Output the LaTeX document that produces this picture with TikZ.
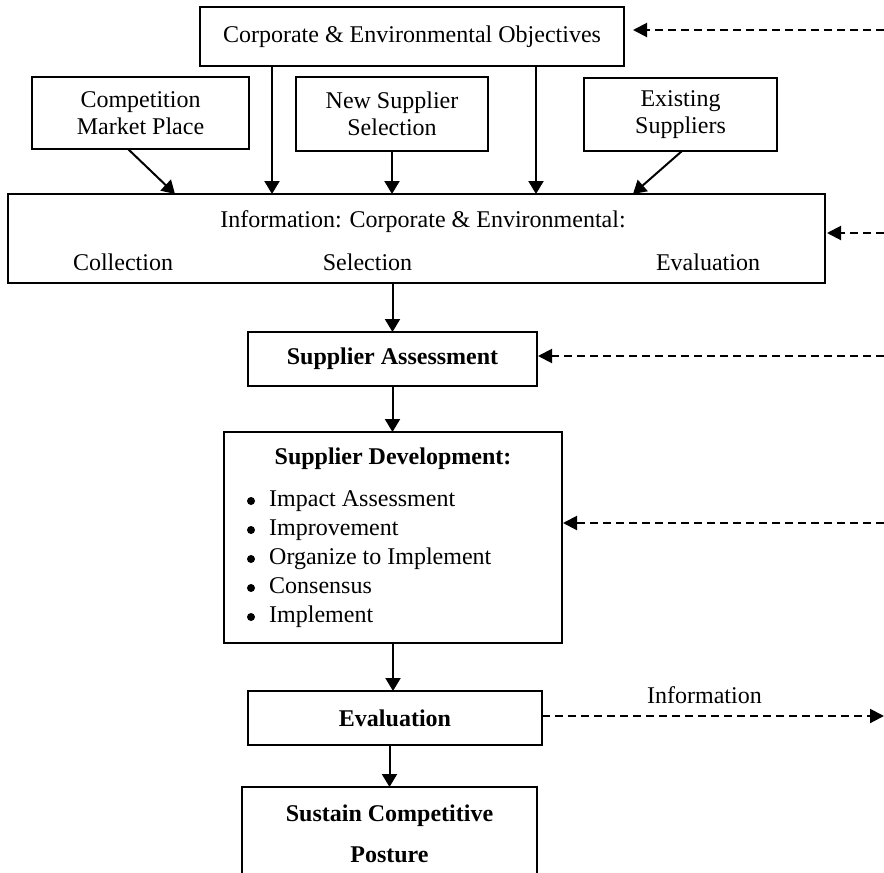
\documentclass[tikz,border=0pt]{standalone}
\usepackage{fontspec}
\setmainfont{Liberation Serif}
\usetikzlibrary{arrows.meta,calc}
\begin{document}
\begin{tikzpicture}[x=1pt,y=-1pt,
  box/.style={draw, line width=2pt, inner sep=0pt, outer sep=0pt, align=center,
    font=\fontsize{24}{27}\selectfont},
  txt/.style={inner sep=0pt, font=\fontsize{24}{29}\selectfont},
  dot/.style={circle, fill, inner sep=0pt, minimum size=8pt},
  flow/.style={line width=2pt, -{Triangle[length=13pt,width=15pt]}},
  feed/.style={line width=2pt, dash pattern=on 8pt off 5pt,
    -{Triangle[length=14pt,width=14pt]}}
]
\useasboundingbox (0,0) rectangle (884,873);

% boxes
\node[box, minimum width=424pt, minimum height=59pt] (corp) at (412,36.5)
  {Corporate \& Environmental Objectives};
\node[box, minimum width=217pt, minimum height=72pt] (comp) at (140.5,113)
  {Competition\\Market Place};
\node[box, minimum width=192pt, minimum height=74pt] (newsup) at (392,114)
  {New Supplier\\Selection};
\node[box, minimum width=193pt, minimum height=73pt] (exist) at (680.5,114.5)
  {Existing\\Suppliers};
\node[box, minimum width=817pt, minimum height=89pt] (info) at (416.5,238.5) {};
\node[txt] (infotitle) at (423,222) {Information: Corporate \& Environmental:};
\node[txt] (infocol) at (123,262) {Collection};
\node[txt] (infosel) at (367.5,262) {Selection};
\node[txt] (infoeval) at (708,262) {Evaluation};

\node[box, minimum width=289pt, minimum height=54pt, font=\fontsize{24}{27}\selectfont\bfseries]
  (sa) at (392.5,359) {Supplier Assessment};

\node[box, minimum width=338pt, minimum height=211pt] (sd) at (393,537.5) {};
\node[txt, font=\fontsize{24}{29}\selectfont\bfseries] (sdtitle) at (393,459) {Supplier Development:};
\node[dot] (b1) at (251,501) {};
\node[dot] (b2) at (251,530) {};
\node[dot] (b3) at (251,559) {};
\node[dot] (b4) at (251,588) {};
\node[dot] (b5) at (251,617) {};
\node[txt, anchor=base west] (sd1) at (269,506) {Impact Assessment};
\node[txt, anchor=base west] (sd2) at (269,535) {Improvement};
\node[txt, anchor=base west] (sd3) at (269,564) {Organize to Implement};
\node[txt, anchor=base west] (sd4) at (269,593) {Consensus};
\node[txt, anchor=base west] (sd5) at (269,622) {Implement};

\node[box, minimum width=294pt, minimum height=54pt, font=\fontsize{24}{27}\selectfont\bfseries]
  (ev) at (395,718) {Evaluation};

\node[box, minimum width=295pt, minimum height=103pt] (sus) at (389.5,838.5) {};
\node[txt, font=\fontsize{24}{41}\selectfont\bfseries, align=center] (sustxt) at (389.5,834)
  {Sustain Competitive\\Posture};

% guide coordinates
\coordinate (xcomp) at (175,0);
\coordinate (xc1) at (272,0);
\coordinate (xc2) at (536,0);
\coordinate (xex) at (633,0);
\coordinate (r1) at (884,30);
\coordinate (r2) at (884,233);
\coordinate (r3) at (884,356);
\coordinate (r4) at (884,523);
\coordinate (r5) at (884,716);

% main flow
\draw[flow] ([xshift=-12.5pt]comp.south) -- (info.north -| xcomp);
\draw[flow] (corp.south -| xc1) -- (info.north -| xc1);
\draw[flow] (newsup.south) -- (info.north -| newsup.south);
\draw[flow] (corp.south -| xc2) -- (info.north -| xc2);
\draw[flow] ([xshift=1.5pt]exist.south) -- (info.north -| xex);
\draw[flow] (info.south -| sa.north) -- (sa.north);
\draw[flow] (sa.south) -- (sd.north -| sa.south);
\draw[flow] (sd.south) -- (ev.north -| sd.south);
\draw[flow] (ev.south -| sus.north) -- (sus.north);

% feedback
\draw[feed, shorten >=9pt] (r1) -- (r1 -| corp.east);
\draw[feed, shorten >=2pt] (r2) -- (r2 -| info.east);
\draw[feed, shorten >=1pt] (r3) -- (r3 -| sa.east);
\draw[feed, shorten >=1pt] (r4) -- (r4 -| sd.east);
\draw[feed] (r5 -| ev.east) -- (r5);
\node[txt, anchor=base] (infolbl) at (704.5,703) {Information};
\end{tikzpicture}
\end{document}
